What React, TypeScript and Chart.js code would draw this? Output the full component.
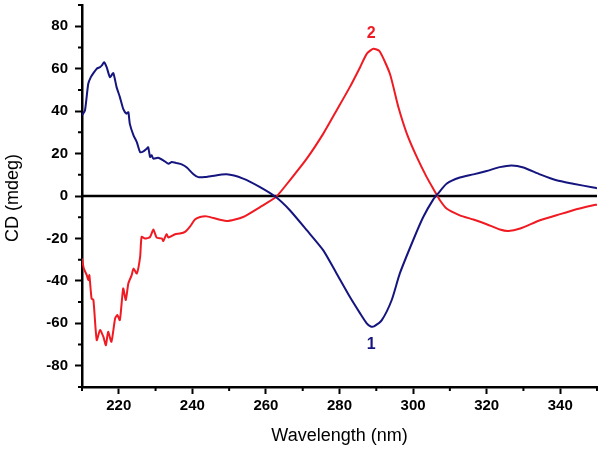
import React, { useEffect, useRef } from "react";
import { Chart, registerables } from "chart.js";

Chart.register(...registerables);

// Curve 1 (blue)
const CURVE1_NM = [210, 210.8, 211.7, 212.4, 213.1, 214, 214.9, 215.4, 216, 216.7, 217.6, 218.5, 219.4, 220.3, 221.2, 222.1, 222.6, 223, 224, 224.9, 225.8, 226.7, 227.6, 228, 228.5, 228.9, 229.4, 230.7, 232.1, 233.5, 234.4, 235.7, 237.1, 238.5, 240.3, 241.6, 243.4, 245, 249.3, 253.8, 258.4, 262.7, 266.5, 271.1, 275.6, 279.2, 282.8, 285.6, 287.4, 288.5, 289.5, 291.5, 294.2, 296.4, 300.1, 302.8, 305.5, 306.9, 309.1, 312.7, 316.4, 320, 323.6, 326.8, 330, 334.5, 339, 343.5, 349, 350];
const CURVE1_CD = [38, 40.3, 52.9, 56, 57.9, 60, 60.7, 61.5, 63, 60.7, 56, 57.9, 51.3, 46.6, 41.1, 38.8, 39.5, 34, 28.6, 25.4, 20.7, 21, 22.3, 23, 18.4, 19.2, 17.6, 18, 16.8, 15.2, 16, 15.5, 14.9, 13.4, 10.2, 8.9, 8.9, 9.3, 10.2, 8.2, 4.2, -0.5, -6.7, -16.1, -25.6, -36.5, -47.5, -55.3, -60, -61.5, -61.3, -58.5, -49, -36.5, -20.5, -9.8, -1.6, 1.4, 5.8, 8.7, 10.2, 11.8, 13.6, 14.4, 13.4, 10.2, 7.4, 5.8, 4, 3.7];

// Curve 2 (red)
const CURVE2_NM = [210, 210.5, 211.3, 211.7, 212, 212.6, 213.1, 214, 214.9, 215.8, 216.5, 217.1, 218, 219, 219.6, 220.3, 221.2, 221.9, 222.6, 223.5, 224, 224.9, 225.8, 226.2, 227.1, 228.5, 229.4, 230.3, 231.7, 232.1, 233, 233.5, 235.3, 236.6, 238, 239.4, 240.7, 242.1, 243.9, 249.3, 253.8, 258.4, 262.7, 266.5, 271.1, 275.6, 279.2, 282.8, 285.6, 287.4, 289.2, 290.9, 293.7, 296, 298.3, 301, 303.7, 306, 307.3, 309.1, 312.7, 316.4, 320, 323.6, 325.9, 329.1, 334.5, 339, 343.5, 349, 350];
const CURVE2_CD = [-29.5, -34.2, -37.3, -39.7, -37.3, -48.3, -49, -67.9, -63.2, -66.3, -70.3, -64, -68.7, -57.7, -56.1, -58.5, -43.6, -49, -41.2, -37.3, -34.2, -36.5, -28.7, -19.3, -20, -19.3, -15.8, -19.6, -20, -21.2, -18, -19.6, -18, -17.7, -16.9, -14.3, -11.1, -9.9, -9.6, -11.8, -9.9, -5.2, -0.5, 7.4, 17.6, 29.4, 40.3, 51.3, 60.7, 67, 69.4, 68.2, 57.6, 41.9, 29.4, 18.4, 8.9, 1.9, -2, -5.9, -9.1, -11.1, -13.3, -15.8, -16.5, -15.3, -11.4, -9.1, -6.7, -4.4, -4.1];

const X_TICKS = [220, 240, 260, 280, 300, 320, 340];
const X_MINOR = [210, 230, 250, 270, 290, 310, 330, 350];
const Y_TICKS = [-80, -60, -40, -20, 0, 20, 40, 60, 80];
const Y_MINOR = [-90, -70, -50, -30, -10, 10, 30, 50, 70, 90];

const ANNOT_TEXT = ["1", "2"];
const ANNOT_NM = [288.6, 288.6];
const ANNOT_CD = [-69.8, 76.6];

const BLUE = "#15157f";
const RED = "#f01a22";
const ANNOT_COLORS = [BLUE, RED];

const FONT = "'Liberation Sans', Arial, sans-serif";

export default function App() {
  const ref = useRef<HTMLCanvasElement | null>(null);

  useEffect(() => {
    const canvas = ref.current;
    if (!canvas) return;

    const extras = {
      id: "extras",
      beforeDatasetsDraw(chart: any) {
        const { ctx, chartArea, scales } = chart;
        const y0 = scales.y.getPixelForValue(0);
        ctx.save();
        ctx.strokeStyle = "#000";
        ctx.lineWidth = 2.5;
        ctx.beginPath();
        ctx.moveTo(chartArea.left, y0);
        ctx.lineTo(chartArea.right, y0);
        ctx.stroke();
        ctx.restore();
      },
      afterDraw(chart: any) {
        const { ctx, chartArea, scales } = chart;
        ctx.save();
        ctx.strokeStyle = "#000";
        ctx.lineWidth = 2;
        ctx.beginPath();
        for (const v of Y_MINOR) {
          const p = scales.y.getPixelForValue(v);
          ctx.moveTo(chartArea.left - 4, p);
          ctx.lineTo(chartArea.left, p);
        }
        for (const v of X_MINOR) {
          const p = scales.x.getPixelForValue(v);
          ctx.moveTo(p, chartArea.bottom);
          ctx.lineTo(p, chartArea.bottom + 4);
        }
        ctx.stroke();

        // annotations
        ctx.font = `bold 16px ${FONT}`;
        ctx.textAlign = "center";
        ctx.textBaseline = "middle";
        ANNOT_TEXT.forEach((t, i) => {
          ctx.fillStyle = ANNOT_COLORS[i];
          ctx.fillText(t, scales.x.getPixelForValue(ANNOT_NM[i]), scales.y.getPixelForValue(ANNOT_CD[i]));
        });

        // axis titles
        ctx.fillStyle = "#000";
        ctx.font = `18px ${FONT}`;
        ctx.textAlign = "center";
        ctx.textBaseline = "middle";
        ctx.fillText("Wavelength (nm)", (chartArea.left + chartArea.right) / 2, 436);
        ctx.save();
        ctx.translate(13, 198);
        ctx.rotate(-Math.PI / 2);
        ctx.fillText("CD (mdeg)", 0, 0);
        ctx.restore();
        ctx.restore();
      },
    };

    const chart = new Chart(canvas, {
      type: "line",
      data: {
        datasets: [
          {
            label: "1",
            data: CURVE1_NM.map((x, i) => ({ x, y: CURVE1_CD[i] })),
            borderColor: BLUE,
            borderWidth: 2,
            pointRadius: 0,
            tension: 0.2,
            fill: false,
          },
          {
            label: "2",
            data: CURVE2_NM.map((x, i) => ({ x, y: CURVE2_CD[i] })),
            borderColor: RED,
            borderWidth: 2,
            pointRadius: 0,
            tension: 0.2,
            fill: false,
          },
        ],
      },
      options: {
        responsive: false,
        animation: false,
        layout: { padding: { top: 5, right: 4, left: 0, bottom: 0 } },
        plugins: {
          legend: { display: false },
          tooltip: { enabled: false },
        },
        scales: {
          x: {
            type: "linear",
            min: 210,
            max: 350,
            afterBuildTicks: (s: any) => {
              s.ticks = X_TICKS.map((v) => ({ value: v }));
            },
            afterFit: (s: any) => {
              s.height = 62;
              s.paddingLeft = 0;
              s.paddingRight = 0;
            },
            border: { display: true, color: "#000", width: 2.5 },
            grid: {
              drawOnChartArea: false,
              drawTicks: true,
              tickLength: 7,
              tickWidth: 2,
              tickColor: "#000",
            },
            ticks: {
              color: "#000",
              font: { family: FONT, size: 15, weight: "bold" },
              padding: 3,
              maxRotation: 0,
            },
          },
          y: {
            type: "linear",
            min: -90,
            max: 90,
            afterBuildTicks: (s: any) => {
              s.ticks = Y_TICKS.map((v) => ({ value: v }));
            },
            afterFit: (s: any) => {
              s.width = 82;
              s.paddingTop = 0;
              s.paddingBottom = 0;
            },
            border: { display: true, color: "#000", width: 2.5 },
            grid: {
              drawOnChartArea: false,
              drawTicks: true,
              tickLength: 7,
              tickWidth: 2,
              tickColor: "#000",
            },
            ticks: {
              color: "#000",
              font: { family: FONT, size: 15, weight: "bold" },
              padding: 7,
            },
          },
        },
      },
      plugins: [extras],
    } as any);

    return () => chart.destroy();
  }, []);

  return (
    <div style={{ position: "fixed", left: 0, top: 0, width: 601, height: 449, background: "#fff" }}>
      <canvas ref={ref} width={601} height={449} style={{ width: 601, height: 449, display: "block" }} />
    </div>
  );
}
